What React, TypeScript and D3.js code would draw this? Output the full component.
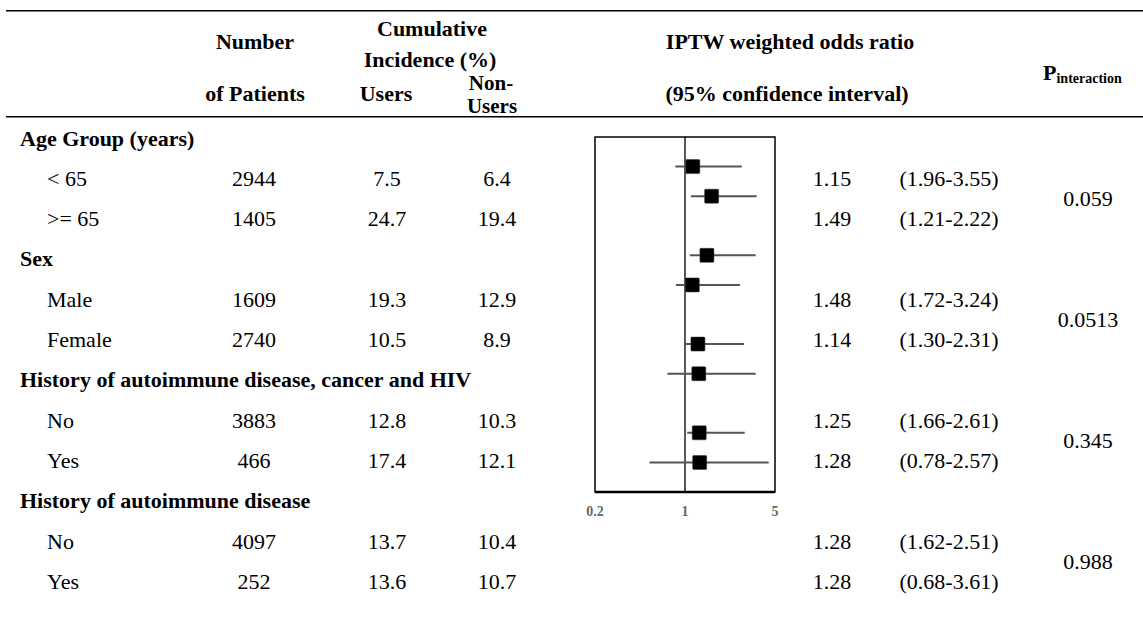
import React from "react";
import * as d3 from "d3";

// table rows
const rowLabels = [
  "Age Group (years)",
  "< 65",
  ">= 65",
  "Sex",
  "Male",
  "Female",
  "History of autoimmune disease, cancer and HIV",
  "No",
  "Yes",
  "History of autoimmune disease",
  "No",
  "Yes",
];
const groupRows = [0, 3, 6, 9];
const numPatients = ["", "2944", "1405", "", "1609", "2740", "", "3883", "466", "", "4097", "252"];
const usersInc = ["", "7.5", "24.7", "", "19.3", "10.5", "", "12.8", "17.4", "", "13.7", "13.6"];
const nonUsersInc = ["", "6.4", "19.4", "", "12.9", "8.9", "", "10.3", "12.1", "", "10.4", "10.7"];
const orText = ["", "1.15", "1.49", "", "1.48", "1.14", "", "1.25", "1.28", "", "1.28", "1.28"];
const ciText = ["", "(1.96-3.55)", "(1.21-2.22)", "", "(1.72-3.24)", "(1.30-2.31)", "", "(1.66-2.61)", "(0.78-2.57)", "", "(1.62-2.51)", "(0.68-3.61)"];
const pValues = ["0.059", "0.0513", "0.345", "0.988"];

// forest plot markers (as drawn)
const plotRows = [1, 2, 4, 5, 7, 8, 10, 11];
const plotOR = [1.15, 1.61, 1.48, 1.14, 1.26, 1.28, 1.29, 1.3];
const plotLo = [0.84, 1.11, 1.09, 0.85, 0.99, 0.73, 1.04, 0.53];
const plotHi = [2.76, 3.6, 3.54, 2.67, 2.87, 3.54, 2.91, 4.47];
const axisTicks = [0.2, 1, 5];

const W = 1143;
const H = 623;
const font = "'Liberation Serif', 'Times New Roman', serif";
const fs = 22;

const App = () => {
  const rowY = d3.scaleLinear().domain([0, 11]).range([138, 581.3]);
  const box = { left: 595, right: 775, top: 137, bottom: 492 };
  const x = d3.scaleLog().domain([0.2, 5]).range([box.left, box.right]);
  const py = d3.scaleLinear().domain([0, 12]).range([box.top, box.bottom]);
  const base = (c: number) => c + 7.5;

  const txt = (s: string, cx: number, cy: number, opts: any = {}) => (
    <text
      x={cx}
      y={base(cy)}
      textAnchor={opts.anchor || "middle"}
      fontWeight={opts.bold ? "bold" : "normal"}
      fontSize={opts.size || fs}
    >
      {s}
    </text>
  );

  return (
    <svg
      width={W}
      height={H}
      style={{ position: "absolute", left: 0, top: 0, background: "#fff" }}
      fontFamily={font}
      fill="#000"
    >
      <line x1={6} x2={W} y1={10.7} y2={10.7} stroke="#000" strokeWidth={1.5} />
      <line x1={6} x2={W} y1={116.7} y2={116.7} stroke="#000" strokeWidth={1.5} />

      {/* headers */}
      {txt("Number", 255, 41, { bold: true })}
      {txt("of Patients", 255, 93, { bold: true })}
      {txt("Cumulative", 432, 28, { bold: true })}
      {txt("Incidence (%)", 430, 59, { bold: true })}
      {txt("Users", 386, 93, { bold: true })}
      {txt("Non-", 491, 82, { bold: true, size: 21 })}
      {txt("Users", 492, 105, { bold: true, size: 21 })}
      {txt("IPTW weighted odds ratio", 790, 41, { bold: true })}
      {txt("(95% confidence interval)", 787, 93, { bold: true })}
      <text x={1043} y={80} fontWeight="bold" fontSize={fs}>
        P
        <tspan fontSize={14} dy={3}>
          interaction
        </tspan>
      </text>

      {/* table body */}
      {rowLabels.map((l, i) => {
        const g = groupRows.includes(i);
        return (
          <g key={i}>
            {txt(l, g ? 20 : 47, rowY(i), { anchor: "start", bold: g })}
            {txt(numPatients[i], 254, rowY(i))}
            {txt(usersInc[i], 387, rowY(i))}
            {txt(nonUsersInc[i], 497, rowY(i))}
            {txt(orText[i], 832, rowY(i))}
            {txt(ciText[i], 949, rowY(i))}
          </g>
        );
      })}
      {pValues.map((p, i) => {
        const r = groupRows[i];
        return <g key={i}>{txt(p, 1088, (rowY(r + 1) + rowY(r + 2)) / 2)}</g>;
      })}

      {/* forest plot */}
      <line x1={x(1)} x2={x(1)} y1={box.top} y2={box.bottom} stroke="#222" strokeWidth={1.5} />
      {plotRows.map((r, i) => (
        <g key={i}>
          <line x1={x(plotLo[i])} x2={x(plotHi[i])} y1={py(r)} y2={py(r)} stroke="#555" strokeWidth={2} />
          <rect x={x(plotOR[i]) - 7} y={py(r) - 7} width={14} height={14} rx={1} fill="#000" stroke="#333" strokeWidth={0.5} />
        </g>
      ))}
      <rect x={box.left} y={box.top} width={box.right - box.left} height={box.bottom - box.top} fill="none" stroke="#000" strokeWidth={1.5} />
      <line x1={box.left} x2={box.right} y1={box.bottom} y2={box.bottom} stroke="#000" strokeWidth={2.5} />
      {axisTicks.map((t) => (
        <text key={t} x={x(t)} y={516} textAnchor="middle" fontWeight="bold" fontSize={14} fill="#666">
          {t}
        </text>
      ))}
    </svg>
  );
};

export default App;
